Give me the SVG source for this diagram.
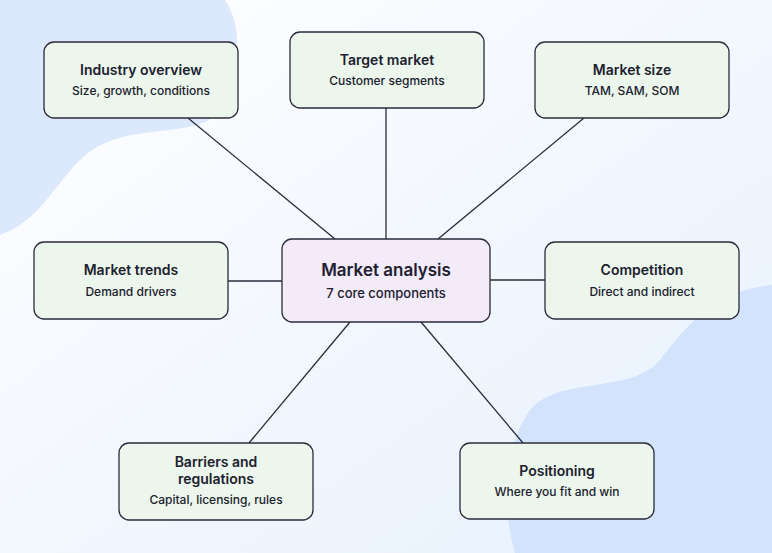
<svg xmlns="http://www.w3.org/2000/svg" width="772" height="553" viewBox="0 0 772 553">
<defs>
<linearGradient id="bg" x1="0" y1="0" x2="1" y2="1"><stop offset="0" stop-color="#ffffff"/><stop offset="1" stop-color="#e6f0fd"/></linearGradient>
<style>
.n{fill:#ecf6ec;stroke:#2b2b3c;stroke-width:1.3}
.c{fill:#f3eafa;stroke:#2b2b3c;stroke-width:1.3}
.t{font-family:Inter,"Noto Sans",sans-serif;font-size:14px;font-weight:600;fill:#20202e;text-anchor:middle}
.s{font-family:Inter,"Noto Sans",sans-serif;font-size:12px;font-weight:500;fill:#20202e;text-anchor:middle}
.ct{font-family:Inter,"Noto Sans",sans-serif;font-size:17px;font-weight:600;fill:#20202e;text-anchor:middle}
.cs{font-family:Inter,"Noto Sans",sans-serif;font-size:13px;font-weight:500;fill:#20202e;text-anchor:middle}
#connectors line{stroke:#2b2b3c;stroke-width:1.3}
</style>
</defs>
<rect width="772" height="553" fill="url(#bg)"/>
<path d="M0 0 H225 C245 30 240 80 215 115 C190 140 120 120 80 160 C50 190 40 220 0 235 Z" fill="#dce8fb"/>
<path d="M772 285 C720 290 690 320 660 360 C630 395 560 375 530 410 C505 445 500 500 515 553 H772 Z" fill="#d2e3fb"/>
<g id="connectors">
<line x1="188" y1="118" x2="335" y2="239"/>
<line x1="386" y1="108" x2="386" y2="239"/>
<line x1="584" y1="118" x2="438" y2="239"/>
<line x1="228" y1="281" x2="282" y2="281"/>
<line x1="490" y1="280" x2="545" y2="280"/>
<line x1="249" y1="443" x2="350" y2="322"/>
<line x1="523" y1="443" x2="421" y2="322"/>
</g>
<g id="industry"><rect class="n" x="44" y="42" width="194" height="76" rx="10"/><text class="t" x="141" y="75">Industry overview</text><text class="s" x="141" y="95">Size, growth, conditions</text></g>
<g id="target"><rect class="n" x="290" y="32" width="194" height="76" rx="10"/><text class="t" x="387" y="65">Target market</text><text class="s" x="387" y="85">Customer segments</text></g>
<g id="size"><rect class="n" x="535" y="42" width="194" height="76" rx="10"/><text class="t" x="632" y="75">Market size</text><text class="s" x="632" y="95">TAM, SAM, SOM</text></g>
<g id="trends"><rect class="n" x="34" y="242" width="194" height="77" rx="10"/><text class="t" x="131" y="275">Market trends</text><text class="s" x="131" y="296">Demand drivers</text></g>
<g id="center"><rect class="c" x="282" y="239" width="208" height="83" rx="10"/><text class="ct" x="386" y="276">Market analysis</text><text class="cs" x="386" y="298">7 core components</text></g>
<g id="competition"><rect class="n" x="545" y="242" width="194" height="77" rx="10"/><text class="t" x="642" y="275">Competition</text><text class="s" x="642" y="296">Direct and indirect</text></g>
<g id="barriers"><rect class="n" x="119" y="443" width="194" height="77" rx="10"/><text class="t" x="216" y="467">Barriers and</text><text class="t" x="216" y="484">regulations</text><text class="s" x="216" y="504">Capital, licensing, rules</text></g>
<g id="positioning"><rect class="n" x="460" y="443" width="194" height="76" rx="10"/><text class="t" x="557" y="476">Positioning</text><text class="s" x="557" y="496">Where you fit and win</text></g>
</svg>
